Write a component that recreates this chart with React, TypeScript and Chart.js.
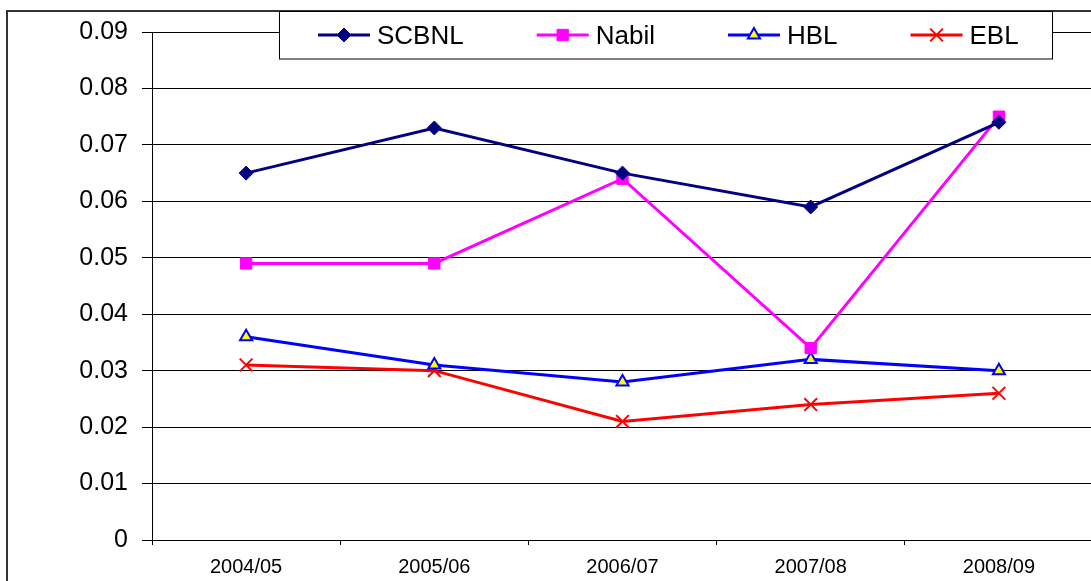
import React, { useEffect, useRef } from 'react';
import { Chart, registerables } from 'chart.js';
import { drawPoint } from 'chart.js/helpers';

Chart.register(...registerables);

const categories = ['2004/05', '2005/06', '2006/07', '2007/08', '2008/09'];
const seriesNames = ['SCBNL', 'Nabil', 'HBL', 'EBL'];
const scbnl = [0.065, 0.073, 0.065, 0.059, 0.074];
const nabil = [0.049, 0.049, 0.064, 0.034, 0.075];
const hbl = [0.036, 0.031, 0.028, 0.032, 0.030];
const ebl = [0.031, 0.030, 0.021, 0.024, 0.026];
const yMin = 0;
const yMax = 0.09;
const yStep = 0.01;

const FONT = '"Liberation Sans", Arial, sans-serif';
const CANVAS_W = 1104;
const CANVAS_H = 581;

const framePlugin = {
  id: 'frameAndLegend',
  afterDraw(chart: any) {
    const ctx = chart.ctx;
    ctx.save();
    // outer frame
    ctx.fillStyle = '#333';
    ctx.fillRect(6, 10, 2, CANVAS_H - 10);
    ctx.fillRect(6, 10, CANVAS_W, 2);
    // legend box
    ctx.fillStyle = '#fff';
    ctx.fillRect(279, 11, 773, 48);
    ctx.strokeStyle = '#000';
    ctx.lineWidth = 1;
    ctx.strokeRect(279.5, 11.5, 773, 47.5);
    ctx.font = `26px ${FONT}`;
    let x = 318;
    const cy = 35;
    chart.data.datasets.forEach((ds: any) => {
      ctx.strokeStyle = ds.borderColor;
      ctx.lineWidth = 3;
      ctx.beginPath();
      ctx.moveTo(x, cy);
      ctx.lineTo(x + 52, cy);
      ctx.stroke();
      ctx.fillStyle = ds.pointBackgroundColor;
      ctx.strokeStyle = ds.pointBorderColor;
      ctx.lineWidth = ds.pointBorderWidth;
      drawPoint(ctx, {
        pointStyle: ds.pointStyle,
        rotation: 0,
        radius: ds.pointRadius,
        borderWidth: ds.pointBorderWidth,
      } as any, x + 26, cy);
      ctx.fillStyle = '#000';
      ctx.textAlign = 'left';
      ctx.textBaseline = 'alphabetic';
      ctx.fillText(ds.label, x + 59, 44);
      x += 59 + ctx.measureText(ds.label).width + 73;
    });
    ctx.restore();
  },
};

export default function App() {
  const ref = useRef<HTMLCanvasElement>(null);
  useEffect(() => {
    if (!ref.current) return;
    const chart = new Chart(ref.current, {
      type: 'line',
      data: {
        labels: categories,
        datasets: [
          {
            label: seriesNames[0],
            data: scbnl,
            borderColor: '#000080',
            backgroundColor: '#000080',
            pointBackgroundColor: '#000080',
            pointBorderColor: '#000080',
            pointBorderWidth: 1,
            pointStyle: 'rectRot',
            pointRadius: 7,
            borderWidth: 3,
          },
          {
            label: seriesNames[1],
            data: nabil,
            borderColor: '#FF00FF',
            backgroundColor: '#FF00FF',
            pointBackgroundColor: '#FF00FF',
            pointBorderColor: '#FF00FF',
            pointBorderWidth: 1,
            pointStyle: 'rect',
            pointRadius: 8,
            borderWidth: 3,
          },
          {
            label: seriesNames[2],
            data: hbl,
            borderColor: '#0000FF',
            backgroundColor: '#0000FF',
            pointBackgroundColor: '#FFFF00',
            pointBorderColor: '#0000FF',
            pointBorderWidth: 2,
            pointStyle: 'triangle',
            pointRadius: 7,
            borderWidth: 3,
          },
          {
            label: seriesNames[3],
            data: ebl,
            borderColor: '#FF0000',
            backgroundColor: '#FF0000',
            pointBackgroundColor: '#FF0000',
            pointBorderColor: '#FF0000',
            pointBorderWidth: 2,
            pointStyle: 'crossRot',
            pointRadius: 9,
            borderWidth: 3,
          },
        ],
      },
      options: {
        animation: false,
        responsive: false,
        devicePixelRatio: 1,
        layout: { padding: { top: 32, right: 4, left: 0, bottom: 0 } },
        plugins: {
          legend: { display: false },
          tooltip: { enabled: false },
          title: { display: false },
        },
        scales: {
          x: {
            type: 'category',
            offset: true,
            grid: {
              drawOnChartArea: false,
              drawTicks: true,
              offset: true,
              tickLength: 5,
              color: '#000',
            },
            border: { display: true, color: '#000', width: 1 },
            ticks: {
              color: '#000',
              font: { family: FONT, size: 20 },
              padding: 10,
              maxRotation: 0,
              autoSkip: false,
            },
            afterFit: (s: any) => { s.height = CANVAS_H - 540; },
          },
          y: {
            min: yMin,
            max: yMax,
            grid: { color: '#000', lineWidth: 1, drawTicks: true, tickLength: 10 },
            border: { display: true, color: '#000', width: 1 },
            ticks: {
              stepSize: yStep,
              color: '#000',
              font: { family: FONT, size: 25 },
              padding: 14,
              callback: (v: any) => (Number(v) === 0 ? '0' : Number(v).toFixed(2)),
            },
            afterFit: (s: any) => { s.width = 152; },
          },
        },
      },
      plugins: [framePlugin],
    });
    return () => chart.destroy();
  }, []);
  return (
    <div style={{ position: 'absolute', left: 0, top: 0, width: 1091, height: CANVAS_H, overflow: 'hidden', background: '#fff' }}>
      <canvas ref={ref} width={CANVAS_W} height={CANVAS_H} style={{ display: 'block' }} />
    </div>
  );
}
